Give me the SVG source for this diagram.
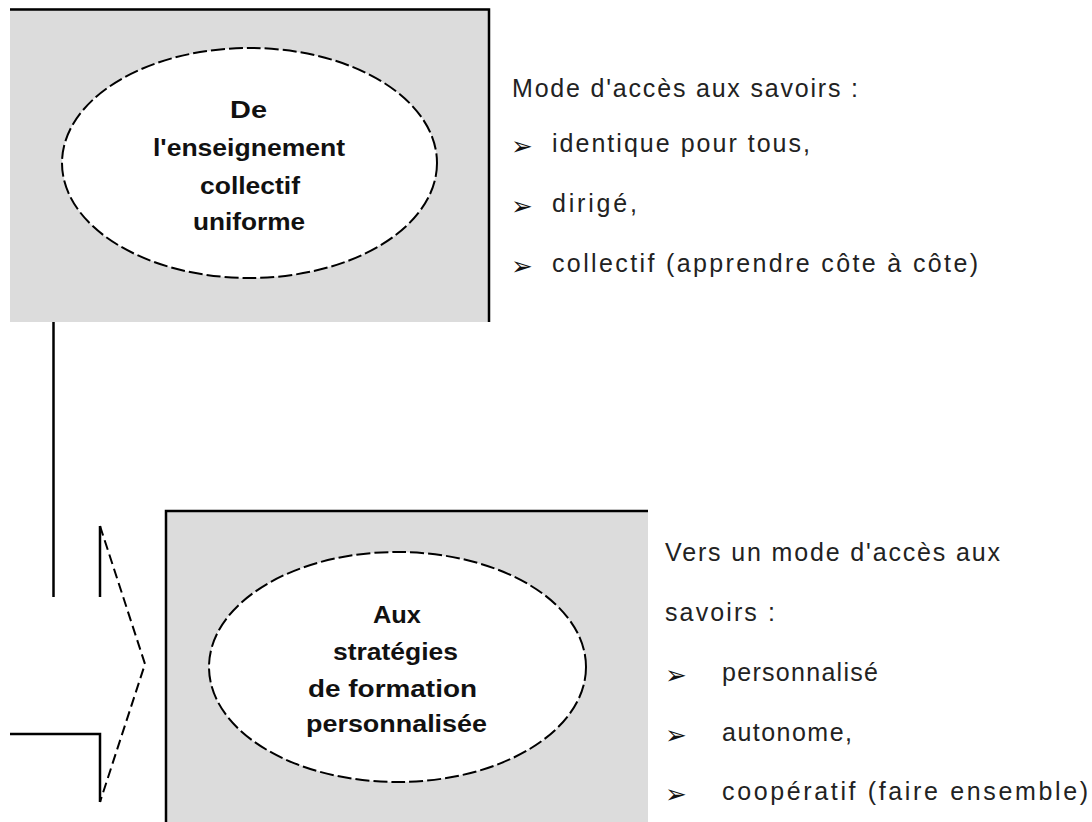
<svg xmlns="http://www.w3.org/2000/svg" width="1092" height="822" viewBox="0 0 1092 822">
<style>
.box{fill:#dcdcdc;stroke:none}
.edge{stroke:#000;stroke-width:2.5;fill:none}
.ell{fill:#fff;stroke:#000;stroke-width:2;stroke-dasharray:14 4}
.lbl{font-family:"Liberation Sans",Arial,sans-serif;font-weight:bold;font-size:23px;fill:#111}
.txt{font-family:"Liberation Sans",Arial,sans-serif;font-size:25px;fill:#222}
.bul{font-family:"DejaVu Sans",sans-serif;font-size:26px;fill:#111}
.ln{stroke:#000;stroke-width:2.5;fill:none}
.dash{stroke:#000;stroke-width:2;fill:none;stroke-dasharray:10 5}
</style>
<rect width="1092" height="822" fill="#fff"/>
<g id="node-top">
<rect class="box" x="10" y="8" width="479" height="314"/>
<path class="edge" d="M10 9.5 H489 V322"/>
<ellipse class="ell" cx="249.5" cy="163" rx="187.5" ry="115"/>
<text class="lbl" x="230" y="118" textLength="37" lengthAdjust="spacingAndGlyphs">De</text>
<text class="lbl" x="153" y="156" textLength="192" lengthAdjust="spacingAndGlyphs">l'enseignement</text>
<text class="lbl" x="200" y="194" textLength="100" lengthAdjust="spacingAndGlyphs">collectif</text>
<text class="lbl" x="193" y="230" textLength="112" lengthAdjust="spacingAndGlyphs">uniforme</text>
</g>
<g id="text-top">
<text class="txt" x="512" y="97" textLength="346" lengthAdjust="spacing">Mode d'accès aux savoirs :</text>
<text class="bul" x="511" y="155">➢</text>
<text class="txt" x="552" y="152" textLength="258" lengthAdjust="spacing">identique pour tous,</text>
<text class="bul" x="511" y="215">➢</text>
<text class="txt" x="552" y="212" textLength="85" lengthAdjust="spacing">dirigé,</text>
<text class="bul" x="511" y="275">➢</text>
<text class="txt" x="552" y="272" textLength="426" lengthAdjust="spacing">collectif (apprendre côte à côte)</text>
</g>
<g id="node-bottom">
<rect class="box" x="165" y="511" width="483" height="311"/>
<path class="edge" d="M648 511 H166 V822"/>
<ellipse class="ell" cx="397.5" cy="667" rx="188.5" ry="115"/>
<text class="lbl" x="373" y="623" textLength="48" lengthAdjust="spacingAndGlyphs">Aux</text>
<text class="lbl" x="333" y="660" textLength="125" lengthAdjust="spacingAndGlyphs">stratégies</text>
<text class="lbl" x="308" y="697" textLength="169" lengthAdjust="spacingAndGlyphs">de formation</text>
<text class="lbl" x="306" y="732" textLength="181" lengthAdjust="spacingAndGlyphs">personnalisée</text>
</g>
<g id="text-bottom">
<text class="txt" x="665" y="561" textLength="335" lengthAdjust="spacing">Vers un mode d'accès aux</text>
<text class="txt" x="665" y="621" textLength="110" lengthAdjust="spacing">savoirs :</text>
<text class="bul" x="665" y="684">➢</text>
<text class="txt" x="722" y="681" textLength="156" lengthAdjust="spacing">personnalisé</text>
<text class="bul" x="665" y="744">➢</text>
<text class="txt" x="722" y="741" textLength="130" lengthAdjust="spacing">autonome,</text>
<text class="bul" x="665" y="803">➢</text>
<text class="txt" x="722" y="800" textLength="366" lengthAdjust="spacing">coopératif (faire ensemble)</text>
</g>
<g id="connectors">
<path class="ln" d="M53.5 322 V597"/>
<path class="ln" d="M100 526 V597"/>
<path class="dash" d="M100 526 L145 664 L100 802"/>
<path class="ln" d="M10 734 H100 V802"/>
</g>
</svg>
